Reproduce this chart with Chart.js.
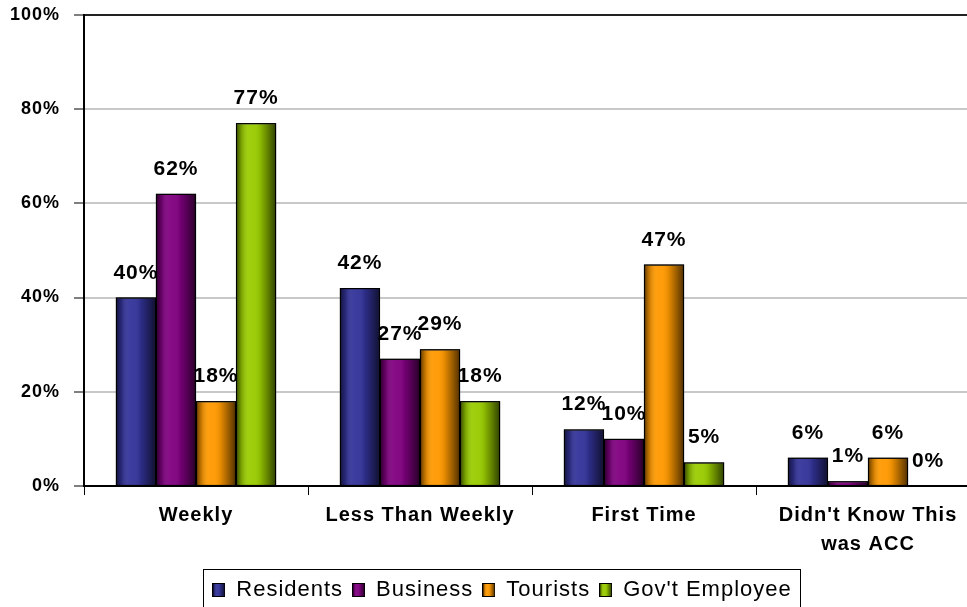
<!DOCTYPE html>
<html>
<head>
<meta charset="utf-8">
<script src="https://cdn.jsdelivr.net/npm/chart.js@4.4.1/dist/chart.umd.min.js"></script>
<style>
  html, body { margin: 0; padding: 0; background: #fff; overflow: hidden; }
  #wrap { width: 1000px; height: 621px; margin-top: -10px; position: relative; }
</style>
</head>
<body>
<div id="wrap"><canvas id="visits"></canvas></div>
<script>
const categories = ["Weekly", "Less Than Weekly", "First Time", ["Didn't Know This", "was ACC"]];
const seriesNames = ["Residents", "Business", "Tourists", "Gov't Employee"];
const residents = [40, 42, 12, 6];
const business = [62, 27, 10, 1];
const tourists = [18, 29, 47, 6];
const govEmployees = [77, 18, 5, 0];
const yTicks = [0, 20, 40, 60, 80, 100];

const baseColors = ["#333399", "#800080", "#ff9900", "#99cc00"];
const FONT = "'Liberation Sans', Arial, sans-serif";

// cylinder-ish shading laid over each bar, dark at both edges
function shade(ctx, x0, x1) {
  const g = ctx.createLinearGradient(x0, 0, x1, 0);
  g.addColorStop(0, "rgba(0,0,0,0.55)");
  g.addColorStop(0.12, "rgba(0,0,0,0.2)");
  g.addColorStop(0.3, "rgba(255,255,255,0.06)");
  g.addColorStop(0.45, "rgba(255,255,255,0.04)");
  g.addColorStop(0.62, "rgba(0,0,0,0.1)");
  g.addColorStop(0.82, "rgba(0,0,0,0.38)");
  g.addColorStop(1, "rgba(0,0,0,0.65)");
  return g;
}

function swatch(color) {
  const c = document.createElement("canvas");
  c.width = 13; c.height = 14;
  const x = c.getContext("2d");
  x.fillStyle = color;
  x.fillRect(0, 0, 13, 14);
  x.fillStyle = shade(x, 1, 12);
  x.fillRect(1, 1, 11, 12);
  x.strokeStyle = "#000";
  x.lineWidth = 1;
  x.strokeRect(0.5, 0.5, 12, 13);
  return c;
}
const swatches = baseColors.map(swatch);

// slightly spread-out lettering for all chart text
const spacing = {
  id: "spacing",
  beforeUpdate(chart) { chart.ctx.letterSpacing = "1px"; },
  beforeDraw(chart) { chart.ctx.letterSpacing = "1px"; },
};

// legend sits a little right of the plot's centre
const legendNudge = {
  id: "legendNudge",
  afterLayout(chart) {
    chart.legend.left += 12;
    chart.legend.right += 12;
  }
};

const barShading = {
  id: "barShading",
  afterDatasetDraw(chart, args) {
    const ctx = chart.ctx;
    ctx.save();
    args.meta.data.forEach(bar => {
      const p = bar.getProps(["x", "y", "base", "width"], true);
      const l = p.x - p.width / 2, r = p.x + p.width / 2;
      const top = Math.min(p.y, p.base), bot = Math.max(p.y, p.base);
      if (bot - top < 1) return;
      ctx.fillStyle = shade(ctx, l + 1, r - 1);
      ctx.fillRect(l + 1, top + 1, r - l - 2, Math.max(bot - top - 1, 0));
      ctx.strokeStyle = "#000";
      ctx.lineWidth = 1.2;
      ctx.strokeRect(l + 0.5, top + 0.5, r - l - 1, bot - top);
    });
    ctx.restore();
  }
};

const valueLabels = {
  id: "valueLabels",
  afterDatasetsDraw(chart) {
    const ctx = chart.ctx;
    ctx.save();
    ctx.font = "bold 21px " + FONT;
    ctx.fillStyle = "#000";
    ctx.textAlign = "center";
    ctx.textBaseline = "alphabetic";
    chart.data.datasets.forEach((ds, i) => {
      chart.getDatasetMeta(i).data.forEach((bar, j) => {
        ctx.fillText(ds.data[j] + "%", bar.x, bar.y - 19);
      });
    });
    ctx.restore();
  }
};

const legendFrame = {
  id: "legendFrame",
  afterDraw(chart) {
    const boxes = chart.legend.legendHitBoxes;
    if (!boxes || !boxes.length) return;
    const l = Math.min(...boxes.map(b => b.left)) - 9;
    const r = Math.max(...boxes.map(b => b.left + b.width)) + 9;
    const t = Math.min(...boxes.map(b => b.top)) - 10;
    const ctx = chart.ctx;
    ctx.save();
    ctx.strokeStyle = "#000";
    ctx.lineWidth = 1;
    ctx.strokeRect(Math.round(l) + 0.5, Math.round(t) + 0.5, Math.round(r - l), 60);
    ctx.restore();
  }
};

const allSeries = [residents, business, tourists, govEmployees];

new Chart(document.getElementById("visits"), {
  type: "bar",
  data: {
    labels: categories,
    datasets: allSeries.map((vals, i) => ({
      label: seriesNames[i],
      data: vals,
      backgroundColor: baseColors[i],
      borderColor: "#000",
      borderWidth: 1,
      borderSkipped: "bottom",
      categoryPercentage: 0.715,
      barPercentage: 1.0,
    })),
  },
  options: {
    responsive: true,
    maintainAspectRatio: false,
    animation: false,
    layout: { padding: { top: 5, right: 20, left: 0, bottom: 0 } },
    plugins: {
      tooltip: { enabled: false },
      legend: {
        position: "bottom",
        labels: {
          usePointStyle: true,
          boxWidth: 13,
          boxHeight: 14,
          padding: 9,
          color: "#000",
          font: { family: FONT, size: 22 },
          generateLabels(chart) {
            return chart.data.datasets.map((ds, i) => ({
              text: ds.label,
              pointStyle: swatches[i],
              fillStyle: baseColors[i],
              strokeStyle: "#000",
              lineWidth: 1,
              datasetIndex: i,
              hidden: false,
            }));
          },
        },
      },
    },
    scales: {
      x: {
        grid: {
          offset: true,
          drawOnChartArea: false,
          tickLength: 9,
          tickColor: "#000",
          tickWidth: 1,
        },
        border: { color: "#000", width: 2 },
        ticks: {
          color: "#000",
          padding: 6,
          font: { family: FONT, size: 20, weight: "bold", lineHeight: 1.45 },
          maxRotation: 0,
        },
        afterFit(scale) { scale.height = 84; },
      },
      y: {
        min: 0,
        max: 100,
        afterBuildTicks(scale) { scale.ticks = yTicks.map(v => ({ value: v })); },
        grid: {
          color: ctx => (ctx.tick && ctx.tick.value === 100 ? "#222" : "#c8c8c8"),
          lineWidth: 2,
          tickColor: "#000",
          tickLength: 10,
          tickWidth: 1,
        },
        border: { color: "#000", width: 2 },
        ticks: {
          color: "#000",
          padding: 14,
          font: { family: FONT, size: 18, weight: "bold" },
          callback: v => v + "%",
        },
        afterFit(scale) { scale.width = 84; },
      },
    },
  },
  plugins: [spacing, legendNudge, barShading, valueLabels, legendFrame],
});
</script>
</body>
</html>
